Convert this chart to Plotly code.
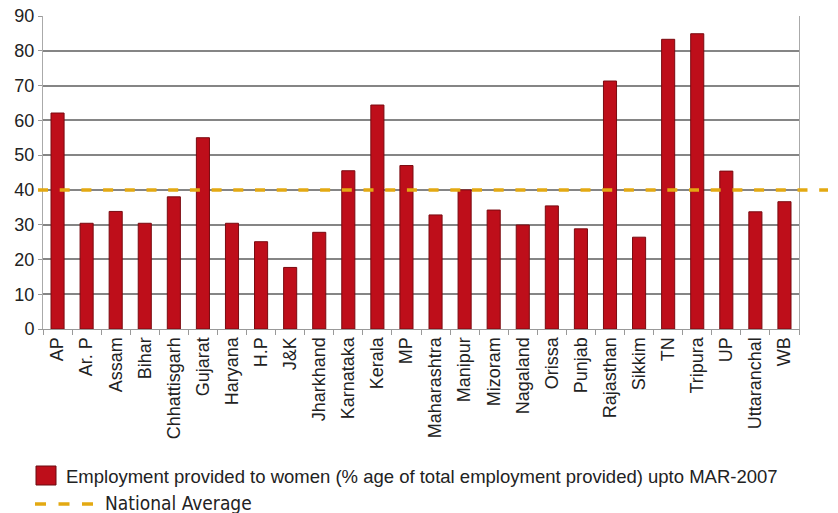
import plotly.graph_objects as go

states = ["AP", "Ar. P", "Assam", "Bihar", "Chhattisgarh", "Gujarat", "Haryana", "H.P",
          "J&K", "Jharkhand", "Karnataka", "Kerala", "MP", "Maharashtra", "Manipur",
          "Mizoram", "Nagaland", "Orissa", "Punjab", "Rajasthan", "Sikkim", "TN",
          "Tripura", "UP", "Uttaranchal", "WB"]
women_pct = [62.1, 30.4, 33.8, 30.4, 38.0, 55.0, 30.4, 25.1, 17.7, 27.8, 45.5, 64.4, 47.0,
             32.8, 40.0, 34.2, 29.9, 35.4, 28.8, 71.3, 26.4, 83.3, 84.9, 45.4, 33.7, 36.6]
national_average = 40
y_ticks = [0, 10, 20, 30, 40, 50, 60, 70, 80, 90]
bar_label = "Employment provided to women (% age of total employment provided) upto MAR-2007"
line_label = "National Average"

W, H = 838, 513
L, R, T, B = 43, 39, 16, 184
PW, PH = W - L - R, H - T - B


def px(x):
    return (x - L) / PW


def py(y):
    return (H - B - y) / PH


BAR_COLOR = "#BE0E1A"
AVG_COLOR = "#E3A912"

fig = go.Figure()
fig.add_trace(go.Bar(
    x=states, y=women_pct, name=bar_label,
    marker=dict(color=BAR_COLOR, line=dict(color="#7A0A10", width=1)),
    showlegend=False,
))

# national average dashed line (extends past plot edge)
fig.add_shape(type="line", xref="paper", yref="y",
              x0=px(38), x1=px(828), y0=national_average, y1=national_average,
              line=dict(color=AVG_COLOR, width=3.5, dash="10px,11.7px"), layer="above")

# manual legend
fig.add_shape(type="rect", xref="paper", yref="paper",
              x0=px(36), x1=px(56), y0=py(485), y1=py(466),
              fillcolor=BAR_COLOR, line=dict(color="#6A0A10", width=1))
fig.add_annotation(xref="paper", yref="paper", x=px(64), y=py(476),
                   xanchor="left", yanchor="middle", showarrow=False,
                   text=bar_label,
                   font=dict(family="Arial, Liberation Sans", size=18.5, color="#222"))
fig.add_shape(type="line", xref="paper", yref="paper",
              x0=px(35), x1=px(93), y0=py(504), y1=py(504),
              line=dict(color=AVG_COLOR, width=3.5, dash="11px,12.5px"))
fig.add_annotation(xref="paper", yref="paper", x=px(103), y=py(503),
                   xanchor="left", yanchor="middle", showarrow=False,
                   text=line_label,
                   font=dict(family="DejaVu Sans Condensed, DejaVu Sans", size=19, color="#222"))

fig.update_layout(
    width=W, height=H,
    margin=dict(l=L, r=R, t=T, b=B, pad=0, autoexpand=False),
    paper_bgcolor="white", plot_bgcolor="white",
    bargap=0.55,
    showlegend=False,
    font=dict(family="Arial, Liberation Sans", color="#222"),
    xaxis=dict(
        type="category", range=[-0.5, len(states) - 0.5], automargin=False,
        tickangle=-90, tickfont=dict(size=18, color="#222"),
        ticks="outside", tickson="boundaries", ticklen=5, tickcolor="#999",
        showline=True, linecolor="#999", linewidth=1, showgrid=False,
    ),
    yaxis=dict(
        range=[0, 90], tickvals=y_ticks, tickfont=dict(size=18, color="#222"),
        automargin=False,
        ticks="outside", ticklen=4, tickcolor="#999",
        showgrid=True, gridcolor="#858585", gridwidth=2,
        showline=True, linecolor="#AAA", linewidth=1, mirror=True,
        zeroline=False,
    ),
)

fig.write_html("out.html")
